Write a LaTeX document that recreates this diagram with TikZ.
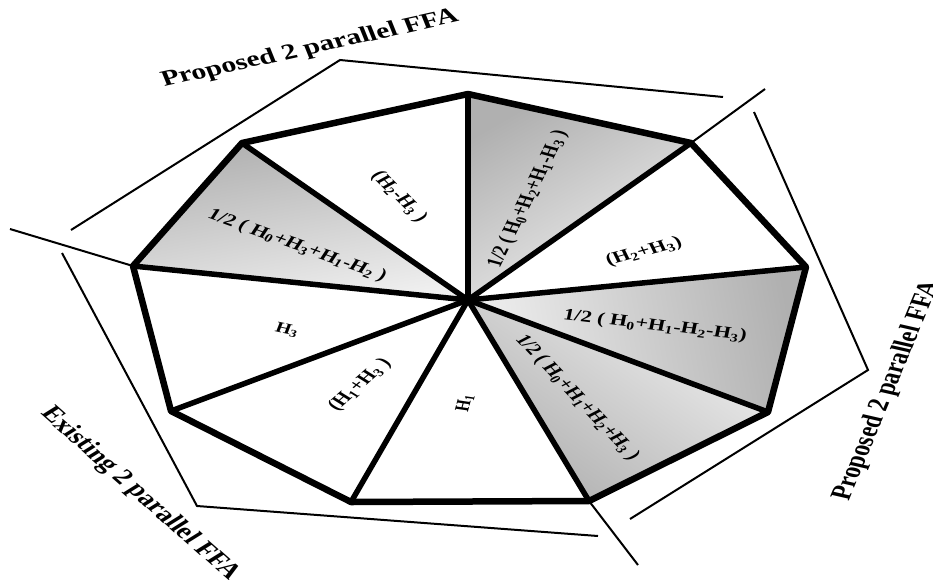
\documentclass[tikz,border=0pt]{standalone}
\usepackage{fontspec}
\setmainfont{Liberation Serif}
\definecolor{gdark}{gray}{0.69}
\definecolor{glight}{gray}{0.94}
\begin{document}
\begin{tikzpicture}[x=1pt,y=-1pt,
  rim/.style={line width=6.5pt, line join=round},
  spoke/.style={line width=5.5pt, line cap=round},
  thinline/.style={line width=2pt},
  lab/.style={font=\bfseries\fontsize{16.5}{16.5}\selectfont, inner sep=0pt, xscale=1.35},
  small/.style={font=\bfseries\fontsize{15}{15}\selectfont, inner sep=0pt, xscale=1.35},
  outer/.style={font=\bfseries\fontsize{22}{22}\selectfont, inner sep=0pt, xscale=1.35},
  gwedge/.style={top color=gdark, bottom color=glight}]
\useasboundingbox (0,0) rectangle (933,584);
\clip (0,0) rectangle (933,584);
\fill[white] (0,0) rectangle (933,584);
% vertices
\coordinate (C) at (468,300);
\coordinate (V1) at (468,94);
\coordinate (V2) at (691,143);
\coordinate (V3) at (806,267);
\coordinate (V4) at (768,412);
\coordinate (V5) at (589,501);
\coordinate (V6) at (351,502);
\coordinate (V7) at (171,411);
\coordinate (V8) at (133,266);
\coordinate (V9) at (242,143);
% gray wedges
\shade[gwedge, shading angle=30] (C) -- (V1) -- (V2) -- cycle;
\shade[gwedge, shading angle=-80] (C) -- (V3) -- (V4) -- cycle;
\shade[gwedge, shading angle=145] (C) -- (V4) -- (V5) -- cycle;
\shade[gwedge, shading angle=10] (C) -- (V8) -- (V9) -- cycle;
% spokes
\foreach \v in {V1,V2,V3,V4,V5,V6,V7,V8,V9} \draw[spoke] (C) -- (\v);
% rim
\draw[rim] (V1) -- (V2) -- (V3) -- (V4) -- (V5) -- (V6) -- (V7) -- (V8) -- (V9) -- cycle;
% thin group lines
\coordinate (T1) at (71,230);
\coordinate (T2) at (340,60);
\coordinate (T3) at (723,97);
\draw[thinline] (T1) -- (T2) -- (T3);
\coordinate (D1) at (10,229);
\draw[thinline] (D1) -- (V8);
\coordinate (D2) at (765,89);
\draw[thinline] (V2) -- (D2);
\coordinate (R1) at (754,112);
\coordinate (R2) at (868,370);
\coordinate (R3) at (630,519);
\draw[thinline] (R1) -- (R2) -- (R3);
\coordinate (D3) at (638,565);
\draw[thinline] (V5) -- (D3);
\coordinate (E1) at (62,253);
\coordinate (E2) at (197,506);
\coordinate (E3) at (598,536);
\draw[thinline] (E1) -- (E2) -- (E3);
% outer labels
\node[outer, rotate=16.6] (tl) at (310,49) {Proposed 2 parallel FFA};
\node[outer, rotate=-50] (bl) at (140,494) {Existing 2 parallel FFA};
\node[outer, rotate=72.9] (rl) at (887,391) {Proposed 2 parallel FFA};
% wedge labels
\node[lab, rotate=-26] (w1) at (297,246) {1/2 ( H\textsubscript{0}+H\textsubscript{3}+H\textsubscript{1}-H\textsubscript{2} )};
\node[lab, rotate=-53.5] (w2) at (399,197) {(H\textsubscript{2}-H\textsubscript{3} )};
\node[lab, rotate=70] (w3) at (528,199) {1/2 ( H\textsubscript{0}+H\textsubscript{2}+H\textsubscript{1}-H\textsubscript{3} )};
\node[lab, rotate=20] (w4) at (644,252) {(H\textsubscript{2}+H\textsubscript{3})};
\node[lab, rotate=-9] (w5) at (655,326) {1/2 ( H\textsubscript{0}+H\textsubscript{1}-H\textsubscript{2}-H\textsubscript{3})};
\node[lab, rotate=-55] (w6) at (577,398) {1/2 ( H\textsubscript{0}+H\textsubscript{1}+H\textsubscript{2}+H\textsubscript{3} )};
\node[small, rotate=78.8] (w7) at (465,403) {H\textsubscript{1}};
\node[lab, rotate=50] (w8) at (360,385) {(H\textsubscript{1}+H\textsubscript{3} )};
\node[small, rotate=-16] (w9) at (287,330) {H\textsubscript{3}};
\end{tikzpicture}
\end{document}
